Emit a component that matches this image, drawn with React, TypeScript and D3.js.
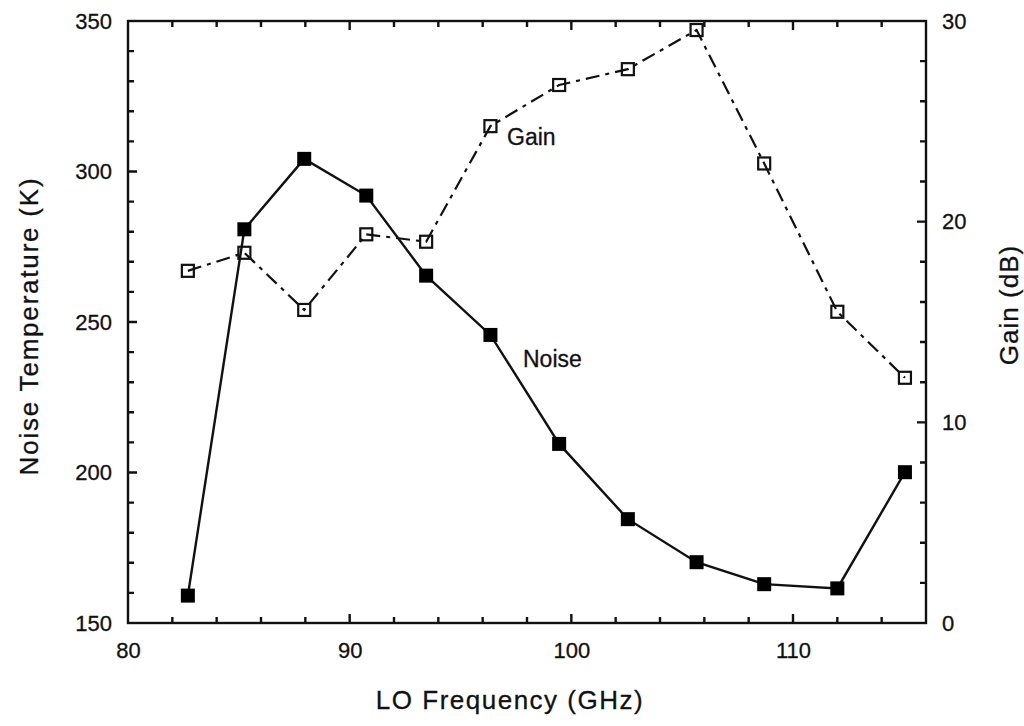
import React, { useRef, useEffect } from "react";
import {
  select,
  scaleLinear,
  line,
  axisBottom,
  axisLeft,
  axisRight,
  range,
} from "d3";

// LO frequency (GHz) of every measured point
const freq = [82.7, 85.25, 87.95, 90.75, 93.45, 96.35, 99.45, 102.55, 105.65, 108.7, 112.0, 115.05];
// noise temperature (K), filled squares
const noise = [159.1, 280.8, 304.2, 292.0, 265.4, 245.7, 209.5, 184.5, 170.2, 162.9, 161.5, 200.1];
// gain (dB), open squares
const gain = [17.55, 18.45, 15.6, 19.37, 19.0, 24.76, 26.81, 27.6, 29.55, 22.9, 15.51, 12.22];

const xMinor = range(82, 116, 2);
const xMajor = [80, 90, 100, 110];
const noiseMinor = range(160, 350, 10);
const noiseMajor = [150, 200, 250, 300, 350];
const gainMinor = range(2, 30, 2);
const gainMajor = [0, 10, 20, 30];

const W = 1024;
const H = 726;
const FONT = "'Liberation Sans', Arial, Helvetica, sans-serif";
const INK = "#111";

function NoiseGainChart() {
  const svgRef = useRef<SVGSVGElement>(null);

  useEffect(() => {
    const svg = select(svgRef.current);
    svg.selectAll("*").remove();

    const left = 128, right = 926, top = 21, bottom = 623;

    const x = scaleLinear().domain([80, 116]).range([left, right]);
    const yN = scaleLinear().domain([150, 350]).range([bottom, top]);
    const yG = scaleLinear().domain([0, 30]).range([bottom, top]);

    const styleAxis = (g, size) => {
      g.select(".domain").remove();
      g.selectAll("line").remove();
      g.attr("font-family", FONT).attr("font-size", size);
      g.selectAll("text").attr("fill", INK).attr("stroke", INK).attr("stroke-width", 0.3);
    };

    // tick labels
    svg.append("g").attr("transform", `translate(0,${bottom})`)
      .call(axisBottom(x).tickValues(xMajor).tickSize(0).tickPadding(19))
      .call((g) => styleAxis(g, 22));
    svg.append("g").attr("transform", `translate(${left},0)`)
      .call(axisLeft(yN).tickValues(noiseMajor).tickSize(0).tickPadding(16))
      .call((g) => styleAxis(g, 22));
    svg.append("g").attr("transform", `translate(${right},0)`)
      .call(axisRight(yG).tickValues(gainMajor).tickSize(0).tickPadding(16))
      .call((g) => styleAxis(g, 22));

    // frame
    svg.append("rect")
      .attr("x", left).attr("y", top)
      .attr("width", right - left).attr("height", bottom - top)
      .attr("fill", "none").attr("stroke", INK).attr("stroke-width", 2.4);

    // inward tick marks on all four sides, one path per side
    const tickPath = (vals, pos, horizontal, start, dir, majorStep) =>
      vals.map((v) => {
        const len = v % majorStep === 0 ? 9 : 6;
        const p = pos(v);
        return horizontal
          ? `M${p},${start}V${start + dir * len}`
          : `M${start},${p}H${start + dir * len}`;
      }).join("");
    const tickD = [
      tickPath(xMinor, x, true, bottom, -1, 10),
      tickPath(xMinor, x, true, top, 1, 10),
      tickPath(noiseMinor, yN, false, left, 1, 50),
      tickPath(gainMinor, yG, false, right, -1, 10),
    ];
    svg.selectAll(".ticks").data(tickD).join("path")
      .attr("class", "ticks")
      .attr("d", (d) => d)
      .attr("fill", "none")
      .attr("stroke", INK)
      .attr("stroke-width", 2.4);

    const gainLine = line<number>().x((d, i) => x(freq[i])).y((d) => yG(d));
    const noiseLine = line<number>().x((d, i) => x(freq[i])).y((d) => yN(d));

    svg.append("path").datum(gain)
      .attr("d", gainLine)
      .attr("fill", "none").attr("stroke", INK).attr("stroke-width", 2.2)
      .attr("stroke-dasharray", "14,6,4,6");

    svg.append("path").datum(noise)
      .attr("d", noiseLine)
      .attr("fill", "none").attr("stroke", INK).attr("stroke-width", 2.4);

    const s1 = 14;
    svg.selectAll(".noiseDot").data(noise).join("rect")
      .attr("class", "noiseDot")
      .attr("x", (d, i) => x(freq[i]) - s1 / 2)
      .attr("y", (d) => yN(d) - s1 / 2)
      .attr("width", s1).attr("height", s1)
      .attr("fill", "#000");

    const s2 = 12;
    svg.selectAll(".gainDot").data(gain).join("rect")
      .attr("class", "gainDot")
      .attr("x", (d, i) => x(freq[i]) - s2 / 2)
      .attr("y", (d) => yG(d) - s2 / 2)
      .attr("width", s2).attr("height", s2)
      .attr("fill", "none").attr("stroke", INK).attr("stroke-width", 2.2);

    const label = (sel, size) =>
      sel.attr("font-family", FONT).attr("font-size", size)
        .attr("fill", INK).attr("stroke", INK).attr("stroke-width", 0.3);

    // series labels
    svg.append("text").attr("x", 507).attr("y", 145).call((s) => label(s, 23)).text("Gain");
    svg.append("text").attr("x", 523).attr("y", 367).call((s) => label(s, 23)).text("Noise");

    // axis titles
    svg.append("text")
      .attr("x", 510).attr("y", 709)
      .attr("text-anchor", "middle")
      .call((s) => label(s, 26))
      .attr("letter-spacing", 1.5)
      .text("LO Frequency (GHz)");
    svg.append("text")
      .attr("transform", `translate(38,326) rotate(-90)`)
      .attr("text-anchor", "middle")
      .call((s) => label(s, 26))
      .attr("letter-spacing", 1.8)
      .text("Noise Temperature (K)");
    svg.append("text")
      .attr("transform", `translate(1018,305) rotate(-90)`)
      .attr("text-anchor", "middle")
      .call((s) => label(s, 26))
      .attr("letter-spacing", 1)
      .text("Gain (dB)");
  }, []);

  return (
    <svg
      ref={svgRef}
      width={W}
      height={H}
      style={{ position: "absolute", left: 0, top: 0, background: "#fff" }}
    />
  );
}

export default function App() {
  return <NoiseGainChart />;
}
